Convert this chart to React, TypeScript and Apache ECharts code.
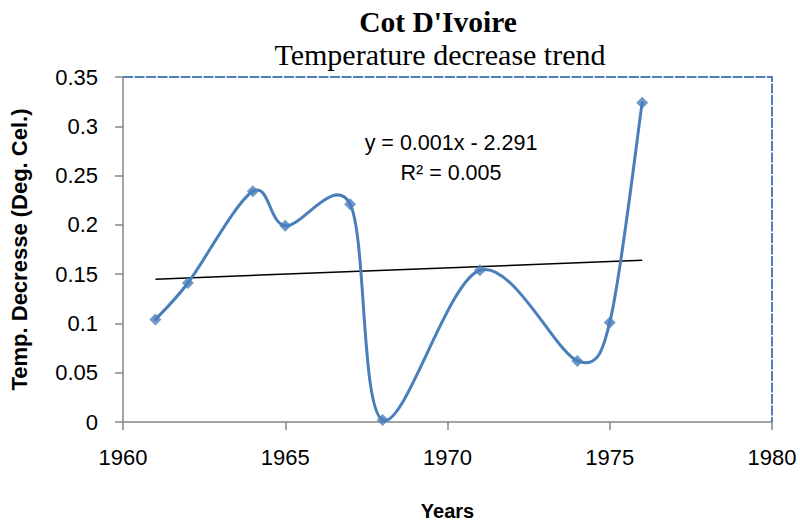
import React, { useEffect, useRef } from "react";
import * as echarts from "echarts";

const years = [1961, 1962, 1964, 1965, 1967, 1968, 1971, 1974, 1975, 1976];
const values = [0.104, 0.141, 0.234, 0.199, 0.221, 0.002, 0.154, 0.062, 0.101, 0.324];
const titleText = "Cot D'Ivoire";
const subtitleText = "Temperature decrease trend";
const equationLines = ["y = 0.001x - 2.291", "R\u00B2 = 0.005"];
const xName = "Years";
const yName = "Temp. Decresse (Deg. Cel.)";

function regression(xs: number[], ys: number[]) {
  const n = xs.length;
  const mx = xs.reduce((a, b) => a + b, 0) / n;
  const my = ys.reduce((a, b) => a + b, 0) / n;
  let sxy = 0;
  let sxx = 0;
  for (let i = 0; i < n; i++) {
    sxy += (xs[i] - mx) * (ys[i] - my);
    sxx += (xs[i] - mx) * (xs[i] - mx);
  }
  const slope = sxy / sxx;
  return { slope, intercept: my - slope * mx };
}

export default function App() {
  const ref = useRef<HTMLDivElement>(null);
  useEffect(() => {
    document.body.style.margin = "0";
    if (!ref.current) return;
    const chart = echarts.init(ref.current, undefined, { renderer: "svg" });
    const { slope, intercept } = regression(years, values);
    const x0 = years[0];
    const x1 = years[years.length - 1];
    const trend = [
      [x0, intercept + slope * x0],
      [x1, intercept + slope * x1],
    ];
    const tickFont = {
      fontFamily: "'Liberation Sans', Arial, sans-serif",
      fontSize: 22,
      color: "#000",
    };
    const n = years.length;
    const renderSpline = (params: any, api: any) => {
      const i = params.dataIndex;
      if (i >= n - 1) return null;
      const pt = (j: number) => {
        const k = Math.max(0, Math.min(n - 1, j));
        return api.coord([years[k], values[k]]) as number[];
      };
      const p0 = pt(i - 1);
      const p1 = pt(i);
      const p2 = pt(i + 1);
      const p3 = pt(i + 2);
      const t = 1 / 6;
      const segLen = Math.hypot(p2[0] - p1[0], p2[1] - p1[1]);
      const limit = (dx: number, dy: number) => {
        const len = Math.hypot(dx, dy);
        const maxLen = segLen * 0.5;
        if (len > maxLen && len > 0) {
          const s = maxLen / len;
          return [dx * s, dy * s];
        }
        return [dx, dy];
      };
      const d1 = limit((p2[0] - p0[0]) * t, (p2[1] - p0[1]) * t);
      const d2 = limit((p3[0] - p1[0]) * t, (p3[1] - p1[1]) * t);
      return {
        type: "bezierCurve",
        shape: {
          x1: p1[0],
          y1: p1[1],
          cpx1: p1[0] + d1[0],
          cpy1: p1[1] + d1[1],
          cpx2: p2[0] - d2[0],
          cpy2: p2[1] - d2[1],
          x2: p2[0],
          y2: p2[1],
        },
        style: { stroke: "#4A7EBB", lineWidth: 3, fill: null, lineCap: "round" },
      };
    };
    chart.setOption({
      animation: false,
      backgroundColor: "#fff",
      grid: { left: 123, right: 28, top: 77, bottom: 105 },
      xAxis: {
        type: "value",
        min: 1960,
        max: 1980,
        interval: 5,
        name: xName,
        nameLocation: "middle",
        nameGap: 79,
        nameTextStyle: {
          fontFamily: "'Liberation Sans', Arial, sans-serif",
          fontWeight: "bold",
          fontSize: 20,
          color: "#000",
        },
        axisLine: { show: true, onZero: false, lineStyle: { color: "#868686", width: 1.5 } },
        axisTick: { show: true, inside: false, length: 8, lineStyle: { color: "#868686", width: 1.5 } },
        axisLabel: { ...tickFont, margin: 24, formatter: (v: number) => String(v) },
        splitLine: { show: false },
      },
      yAxis: {
        type: "value",
        min: 0,
        max: 0.35,
        interval: 0.05,
        name: yName,
        nameLocation: "middle",
        nameRotate: 90,
        nameGap: 93,
        nameTextStyle: {
          fontFamily: "'Liberation Sans', Arial, sans-serif",
          fontWeight: "bold",
          fontSize: 22,
          color: "#000",
        },
        axisLine: { show: true, lineStyle: { color: "#868686", width: 1.5 } },
        axisTick: { show: true, length: 8, lineStyle: { color: "#868686", width: 1.5 } },
        axisLabel: { ...tickFont, margin: 25 },
        splitLine: { show: false },
      },
      title: [
        {
          text: titleText,
          left: 433,
          top: 2,
          textAlign: "center",
          textStyle: {
            fontFamily: "'Liberation Serif', 'Times New Roman', serif",
            fontWeight: "bold",
            fontSize: 29.5,
            color: "#000",
          },
        },
        {
          text: subtitleText,
          left: 435,
          top: 34,
          textAlign: "center",
          textStyle: {
            fontFamily: "'Liberation Serif', 'Times New Roman', serif",
            fontWeight: "normal",
            fontSize: 30,
            color: "#000",
          },
        },
      ],
      series: [
        {
          type: "custom",
          renderItem: renderSpline,
          data: years.map((y, i) => [y, values[i]]),
          encode: { x: 0, y: 1 },
          z: 3,
        },
        {
          type: "scatter",
          data: years.map((y, i) => [y, values[i]]),
          symbol: "diamond",
          symbolSize: 12,
          itemStyle: { color: "#4A7EBB" },
          z: 4,
        },
        {
          type: "line",
          data: trend,
          symbol: "none",
          lineStyle: { color: "#000", width: 1.5 },
          z: 2,
        },
      ],
    });
    const tl = chart.convertToPixel({ gridIndex: 0 }, [1960, 0.35]) as number[];
    const br = chart.convertToPixel({ gridIndex: 0 }, [1980, 0]) as number[];
    chart.setOption({
      graphic: [
        {
          type: "polyline",
          shape: { points: [[tl[0], tl[1]], [br[0], tl[1]], [br[0], br[1]]] },
          style: { stroke: "#4F81BD", lineWidth: 2, lineDash: [10, 1.5], fill: null },
          z: 1,
        },
        {
          type: "text",
          x: 451,
          y: 143,
          style: {
            text: equationLines[0],
            fontFamily: "'Liberation Sans', Arial, sans-serif",
            fontSize: 21.5,
            fill: "#000",
            align: "center",
            verticalAlign: "middle",
          },
        },
        {
          type: "text",
          x: 451,
          y: 173,
          style: {
            text: equationLines[1],
            fontFamily: "'Liberation Sans', Arial, sans-serif",
            fontSize: 21.5,
            fill: "#000",
            align: "center",
            verticalAlign: "middle",
          },
        },
      ],
    });
    return () => chart.dispose();
  }, []);
  return <div ref={ref} style={{ width: 800, height: 527 }} />;
}
